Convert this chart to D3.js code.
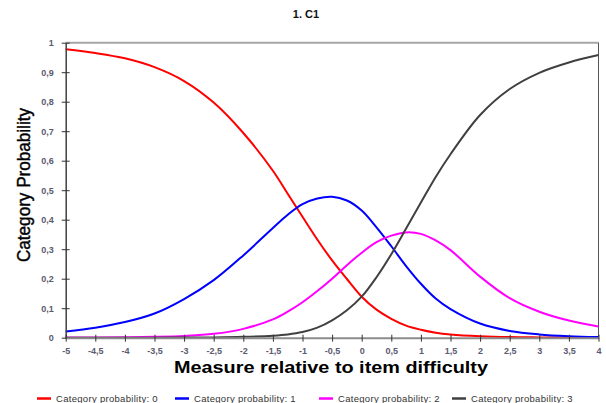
<!DOCTYPE html>
<html>
<head>
<meta charset="utf-8">
<script src="https://cdn.jsdelivr.net/npm/d3@7"></script>
<style>
  body { margin: 0; background: #fff; }
  svg { display: block; font-family: "Liberation Sans", Arial, sans-serif; }
</style>
</head>
<body>
<div id="chart"></div>
<script>
// data
const measures = [-5, -4.5, -4, -3.5, -3, -2.5, -2, -1.5, -1.25, -1, -0.75, -0.5, -0.25, 0, 0.25, 0.5, 0.75, 1, 1.25, 1.5, 2, 2.5, 3, 3.5, 4];
const cat0 = [0.978, 0.965, 0.947, 0.917, 0.87, 0.797, 0.694, 0.566, 0.488, 0.41, 0.333, 0.262, 0.199, 0.139, 0.095, 0.064, 0.041, 0.027, 0.017, 0.011, 0.005, 0.002, 0.001, 0.0005, 0.0002];
const cat1 = [0.021, 0.034, 0.053, 0.082, 0.131, 0.195, 0.279, 0.372, 0.417, 0.453, 0.472, 0.478, 0.465, 0.431, 0.374, 0.31, 0.243, 0.183, 0.133, 0.097, 0.048, 0.023, 0.011, 0.005, 0.002];
const cat2 = [0.0003, 0.0007, 0.0015, 0.003, 0.006, 0.013, 0.03, 0.062, 0.088, 0.12, 0.158, 0.2, 0.246, 0.288, 0.324, 0.346, 0.357, 0.352, 0.33, 0.297, 0.207, 0.134, 0.088, 0.058, 0.038];
const cat3 = [0, 0, 0.0001, 0.0002, 0.0005, 0.001, 0.003, 0.007, 0.011, 0.019, 0.034, 0.059, 0.093, 0.139, 0.205, 0.283, 0.37, 0.458, 0.545, 0.622, 0.755, 0.843, 0.898, 0.933, 0.958];
const seriesNames = ['Category probability: 0', 'Category probability: 1', 'Category probability: 2', 'Category probability: 3'];
const xTicks = [-5, -4.5, -4, -3.5, -3, -2.5, -2, -1.5, -1, -0.5, 0, 0.5, 1, 1.5, 2, 2.5, 3, 3.5, 4];
const yTicks = [0, 0.1, 0.2, 0.3, 0.4, 0.5, 0.6, 0.7, 0.8, 0.9, 1];

const colors = ['#ff0000', '#0000ff', '#ff00ff', '#404040'];
const series = [cat0, cat1, cat2, cat3];

const width = 606, height = 403;
const margins = { top: 42.7, right: 7.5, bottom: 65.3, left: 65.7 };

const fmt = d => String(d).replace('.', ',');

const $svg = d3.select('#chart').append('svg')
  .attr('width', width)
  .attr('height', height);

const xScale = d3.scaleLinear()
  .domain([-5, 4])
  .range([margins.left, width - margins.right]);

const yScale = d3.scaleLinear()
  .domain([0, 1])
  .range([height - margins.bottom, margins.top]);

// title
$svg.append('text')
  .attr('x', 306)
  .attr('y', 18)
  .attr('text-anchor', 'middle')
  .attr('font-size', 11)
  .attr('font-weight', 'bold')
  .attr('fill', '#111')
  .text('1. C1');

// frame: top grey line, right thin line
$svg.append('line')
  .attr('x1', xScale(-5)).attr('x2', xScale(4))
  .attr('y1', yScale(1)).attr('y2', yScale(1))
  .attr('stroke', '#a6a6a6').attr('stroke-width', 2);

$svg.append('line')
  .attr('x1', xScale(4)).attr('x2', xScale(4))
  .attr('y1', yScale(1)).attr('y2', yScale(0))
  .attr('stroke', '#555').attr('stroke-width', 1);

// curves
const line = d3.line()
  .x((d, i) => xScale(measures[i]))
  .y(d => yScale(d))
  .curve(d3.curveCatmullRom.alpha(0.5));

$svg.selectAll('.curve')
  .data(series)
  .enter()
  .append('path')
  .classed('curve', true)
  .attr('d', line)
  .attr('fill', 'none')
  .attr('stroke', (d, i) => colors[i])
  .attr('stroke-width', 2);

// y axis
const yAxis = d3.axisLeft(yScale)
  .tickValues(yTicks)
  .tickSizeInner(4)
  .tickSizeOuter(0)
  .tickPadding(8)
  .tickFormat(fmt);

const $yAxisGroup = $svg.append('g')
  .attr('transform', `translate(${margins.left}, 0)`)
  .call(yAxis);

$yAxisGroup.select('.domain').attr('stroke', '#404040').attr('stroke-width', 1.5);
$yAxisGroup.selectAll('.tick line').attr('x2', -4).attr('x1', 4).attr('stroke', '#333');
$yAxisGroup.selectAll('.tick text')
  .attr('font-size', 9)
  .attr('font-weight', 'bold')
  .attr('fill', '#5a5a70')
  .attr('font-family', '"Liberation Sans", Arial, sans-serif');

// x axis
const xAxis = d3.axisBottom(xScale)
  .tickValues(xTicks)
  .tickSizeInner(4)
  .tickSizeOuter(0)
  .tickPadding(6)
  .tickFormat(fmt);

const $xAxisGroup = $svg.append('g')
  .attr('transform', `translate(0, ${height - margins.bottom})`)
  .call(xAxis);

$xAxisGroup.select('.domain').attr('stroke', '#8c8c8c').attr('stroke-width', 2);
$xAxisGroup.selectAll('.tick line').attr('y1', -3).attr('y2', 4).attr('stroke', '#333');
$xAxisGroup.selectAll('.tick text')
  .attr('font-size', 9)
  .attr('font-weight', 'bold')
  .attr('fill', '#5a5a70')
  .attr('font-family', '"Liberation Sans", Arial, sans-serif');

// axis titles
$svg.append('text')
  .attr('x', 174)
  .attr('y', 373)
  .attr('font-size', 16)
  .attr('font-weight', 'bold')
  .attr('fill', '#000')
  .attr('textLength', 314)
  .attr('lengthAdjust', 'spacingAndGlyphs')
  .text('Measure relative to item difficulty');

$svg.append('text')
  .attr('transform', 'translate(30, 262) rotate(-90)')
  .attr('x', 0)
  .attr('y', 0)
  .attr('font-size', 18)
  .attr('fill', '#000')
  .attr('stroke', '#000')
  .attr('stroke-width', 0.4)
  .attr('textLength', 154)
  .attr('lengthAdjust', 'spacingAndGlyphs')
  .text('Category Probability');

// legend
const legendX = [37, 175, 319, 452];

const $legend = $svg.selectAll('.legend')
  .data(seriesNames)
  .enter()
  .append('g')
  .classed('legend', true)
  .attr('transform', (d, i) => `translate(${legendX[i]}, 398.5)`);

$legend.append('line')
  .attr('x1', 0).attr('x2', 14)
  .attr('y1', 0).attr('y2', 0)
  .attr('stroke', (d, i) => colors[i])
  .attr('stroke-width', 2.5);

$legend.append('text')
  .attr('x', 19)
  .attr('y', 3.5)
  .attr('font-size', 9.5)
  .attr('fill', '#333')
  .attr('letter-spacing', 0.3)
  .text(d => d);
</script>
</body>
</html>
